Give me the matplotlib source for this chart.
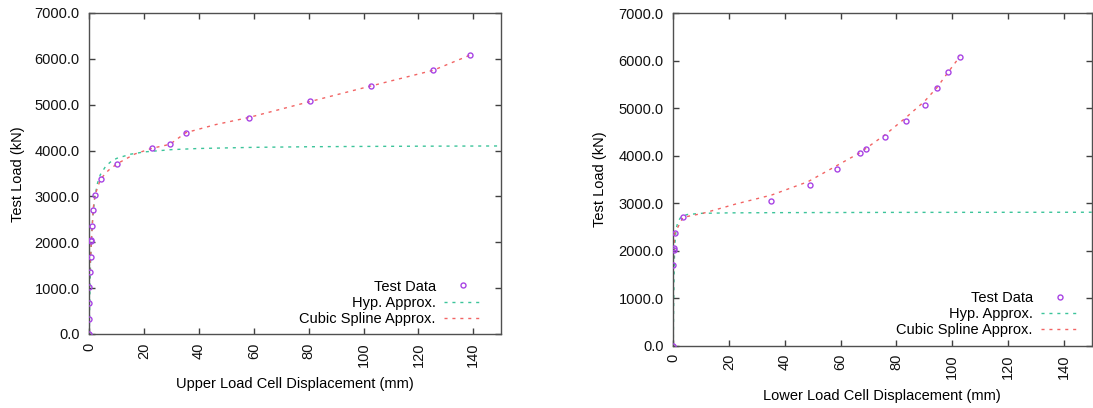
import matplotlib
matplotlib.use("Agg")
import matplotlib.pyplot as plt
from matplotlib.ticker import FormatStrFormatter

plt.rcParams['font.family'] = ['Liberation Sans', 'DejaVu Sans']

# upper load cell - test data
up_x = [0, 0, 0, 0, 0.1, 0.5, 0.75, 0.8, 1.1, 1.35, 2.1, 4.1, 10.2, 22.9, 29.4, 35.2, 58.1, 80.6, 102.8, 125.4, 138.8]
up_y = [0, 327, 669, 1018, 1359, 1686, 2050, 2020, 2355, 2704, 3031, 3380, 3714, 4050, 4136, 4390, 4720, 5070, 5410, 5750, 6080]
# upper - hyperbolic approx
up_hyp_x = [0, 0.1, 0.25, 0.5, 1, 2, 3, 4, 6, 8, 10, 15, 20, 30, 40, 60, 80, 100, 120, 150]
up_hyp_y = [0, 480, 1020, 1640, 2350, 2990, 3290, 3470, 3660, 3765, 3830, 3920, 3970, 4020, 4045, 4070, 4083, 4090, 4095, 4100]
# upper - cubic spline approx
up_spl_x = [0, 0, 0, 0, 0.1, 0.5, 0.75, 1.1, 1.35, 2.1, 4.1, 7, 10.2, 16.6, 22.9, 29.4, 35.2, 46, 58.1, 80.6, 102.8, 125.4, 138.8]
up_spl_y = [0, 327, 669, 1018, 1359, 1686, 2050, 2355, 2704, 3031, 3380, 3570, 3714, 3925, 4050, 4136, 4390, 4565, 4720, 5070, 5410, 5750, 6080]

# lower load cell - test data
lo_x = [0, 0, 0.25, 0.3, 0.5, 3.5, 35.2, 49.1, 58.8, 66.9, 69.2, 75.9, 83.3, 90.4, 94.5, 98.6, 102.7]
lo_y = [0, 1698, 2049, 2020, 2365, 2701, 3040, 3388, 3718, 4050, 4132, 4391, 4727, 5058, 5415, 5752, 6081]
# lower - hyperbolic approx
lo_hyp_x = [0, 0.1, 0.25, 0.5, 1, 1.65, 2.8, 5, 10, 20, 40, 80, 150]
lo_hyp_y = [0, 700, 1400, 2080, 2450, 2609, 2714, 2760, 2785, 2795, 2800, 2805, 2808]
# lower - cubic spline approx
lo_spl_x = [0, 0, 0.25, 0.5, 3.5, 10.6, 22.4, 35.3, 48.3, 58.8, 66.9, 76.2, 83.4, 90.2, 94.5, 98.6, 102.7]
lo_spl_y = [0, 1698, 2049, 2365, 2701, 2785, 2981, 3171, 3451, 3795, 4060, 4450, 4800, 5150, 5430, 5760, 6081]

xticks = [0, 20, 40, 60, 80, 100, 120, 140]
yticks = [0, 1000, 2000, 3000, 4000, 5000, 6000, 7000]

c_pts = '#a844e4'
c_hyp = '#3cc49a'
c_spl = '#f26464'
fs = 10.5

fig = plt.figure(figsize=(10.93, 4.08), dpi=100)
ax1 = fig.add_axes([0.0817, 0.1814, 0.3764, 0.7868])
ax2 = fig.add_axes([0.6160, 0.1527, 0.3828, 0.8154])


def draw(ax, px, py, hx, hy, sx, sy, leg_anchor):
    ax.plot(px, py, 'o', ms=3.6, mfc='none', mec=c_pts, mew=1, label='Test Data', zorder=3)
    ax.plot(hx, hy, color=c_hyp, lw=1, dashes=(2.2, 3.5), label='Hyp. Approx.')
    ax.plot(sx, sy, color=c_spl, lw=1, dashes=(2.2, 3.5), label='Cubic Spline Approx.')
    ax.set_xlim(0, 150)
    ax.set_ylim(0, 7000)
    ax.set_xticks(xticks)
    ax.set_yticks(yticks)
    ax.yaxis.set_major_formatter(FormatStrFormatter('%.1f'))
    ax.tick_params(direction='in', length=4.5, width=1, color='#404040',
                   top=True, right=True, labelsize=fs, labelcolor='#111111')
    ax.tick_params(axis='y', pad=7)
    ax.tick_params(axis='x', pad=6)
    for lab in ax.get_xticklabels():
        lab.set_rotation(90)
    for s in ax.spines.values():
        s.set_color('#505050')
        s.set_linewidth(1)
    ax.legend(loc='lower right', bbox_to_anchor=leg_anchor, frameon=False,
              markerfirst=False, fontsize=fs, handlelength=2.5, handletextpad=0.6,
              labelspacing=0.15, borderpad=0, borderaxespad=0, numpoints=1)


draw(ax1, up_x, up_y, up_hyp_x, up_hyp_y, up_spl_x, up_spl_y, (0.952, 0.025))
draw(ax2, lo_x, lo_y, lo_hyp_x, lo_hyp_y, lo_spl_x, lo_spl_y, (0.967, 0.026))

fig.text(295 / 1093, 1 - 384 / 408, 'Upper Load Cell Displacement (mm)', ha='center', va='center', fontsize=fs)
fig.text(882 / 1093, 1 - 396 / 408, 'Lower Load Cell Displacement (mm)', ha='center', va='center', fontsize=fs)
fig.text(18 / 1093, 1 - 174 / 408, 'Test Load (kN)', ha='center', va='center', rotation=90, fontsize=fs)
fig.text(600 / 1093, 1 - 179 / 408, 'Test Load (kN)', ha='center', va='center', rotation=90, fontsize=fs)

fig.savefig('out.png', dpi=100)
